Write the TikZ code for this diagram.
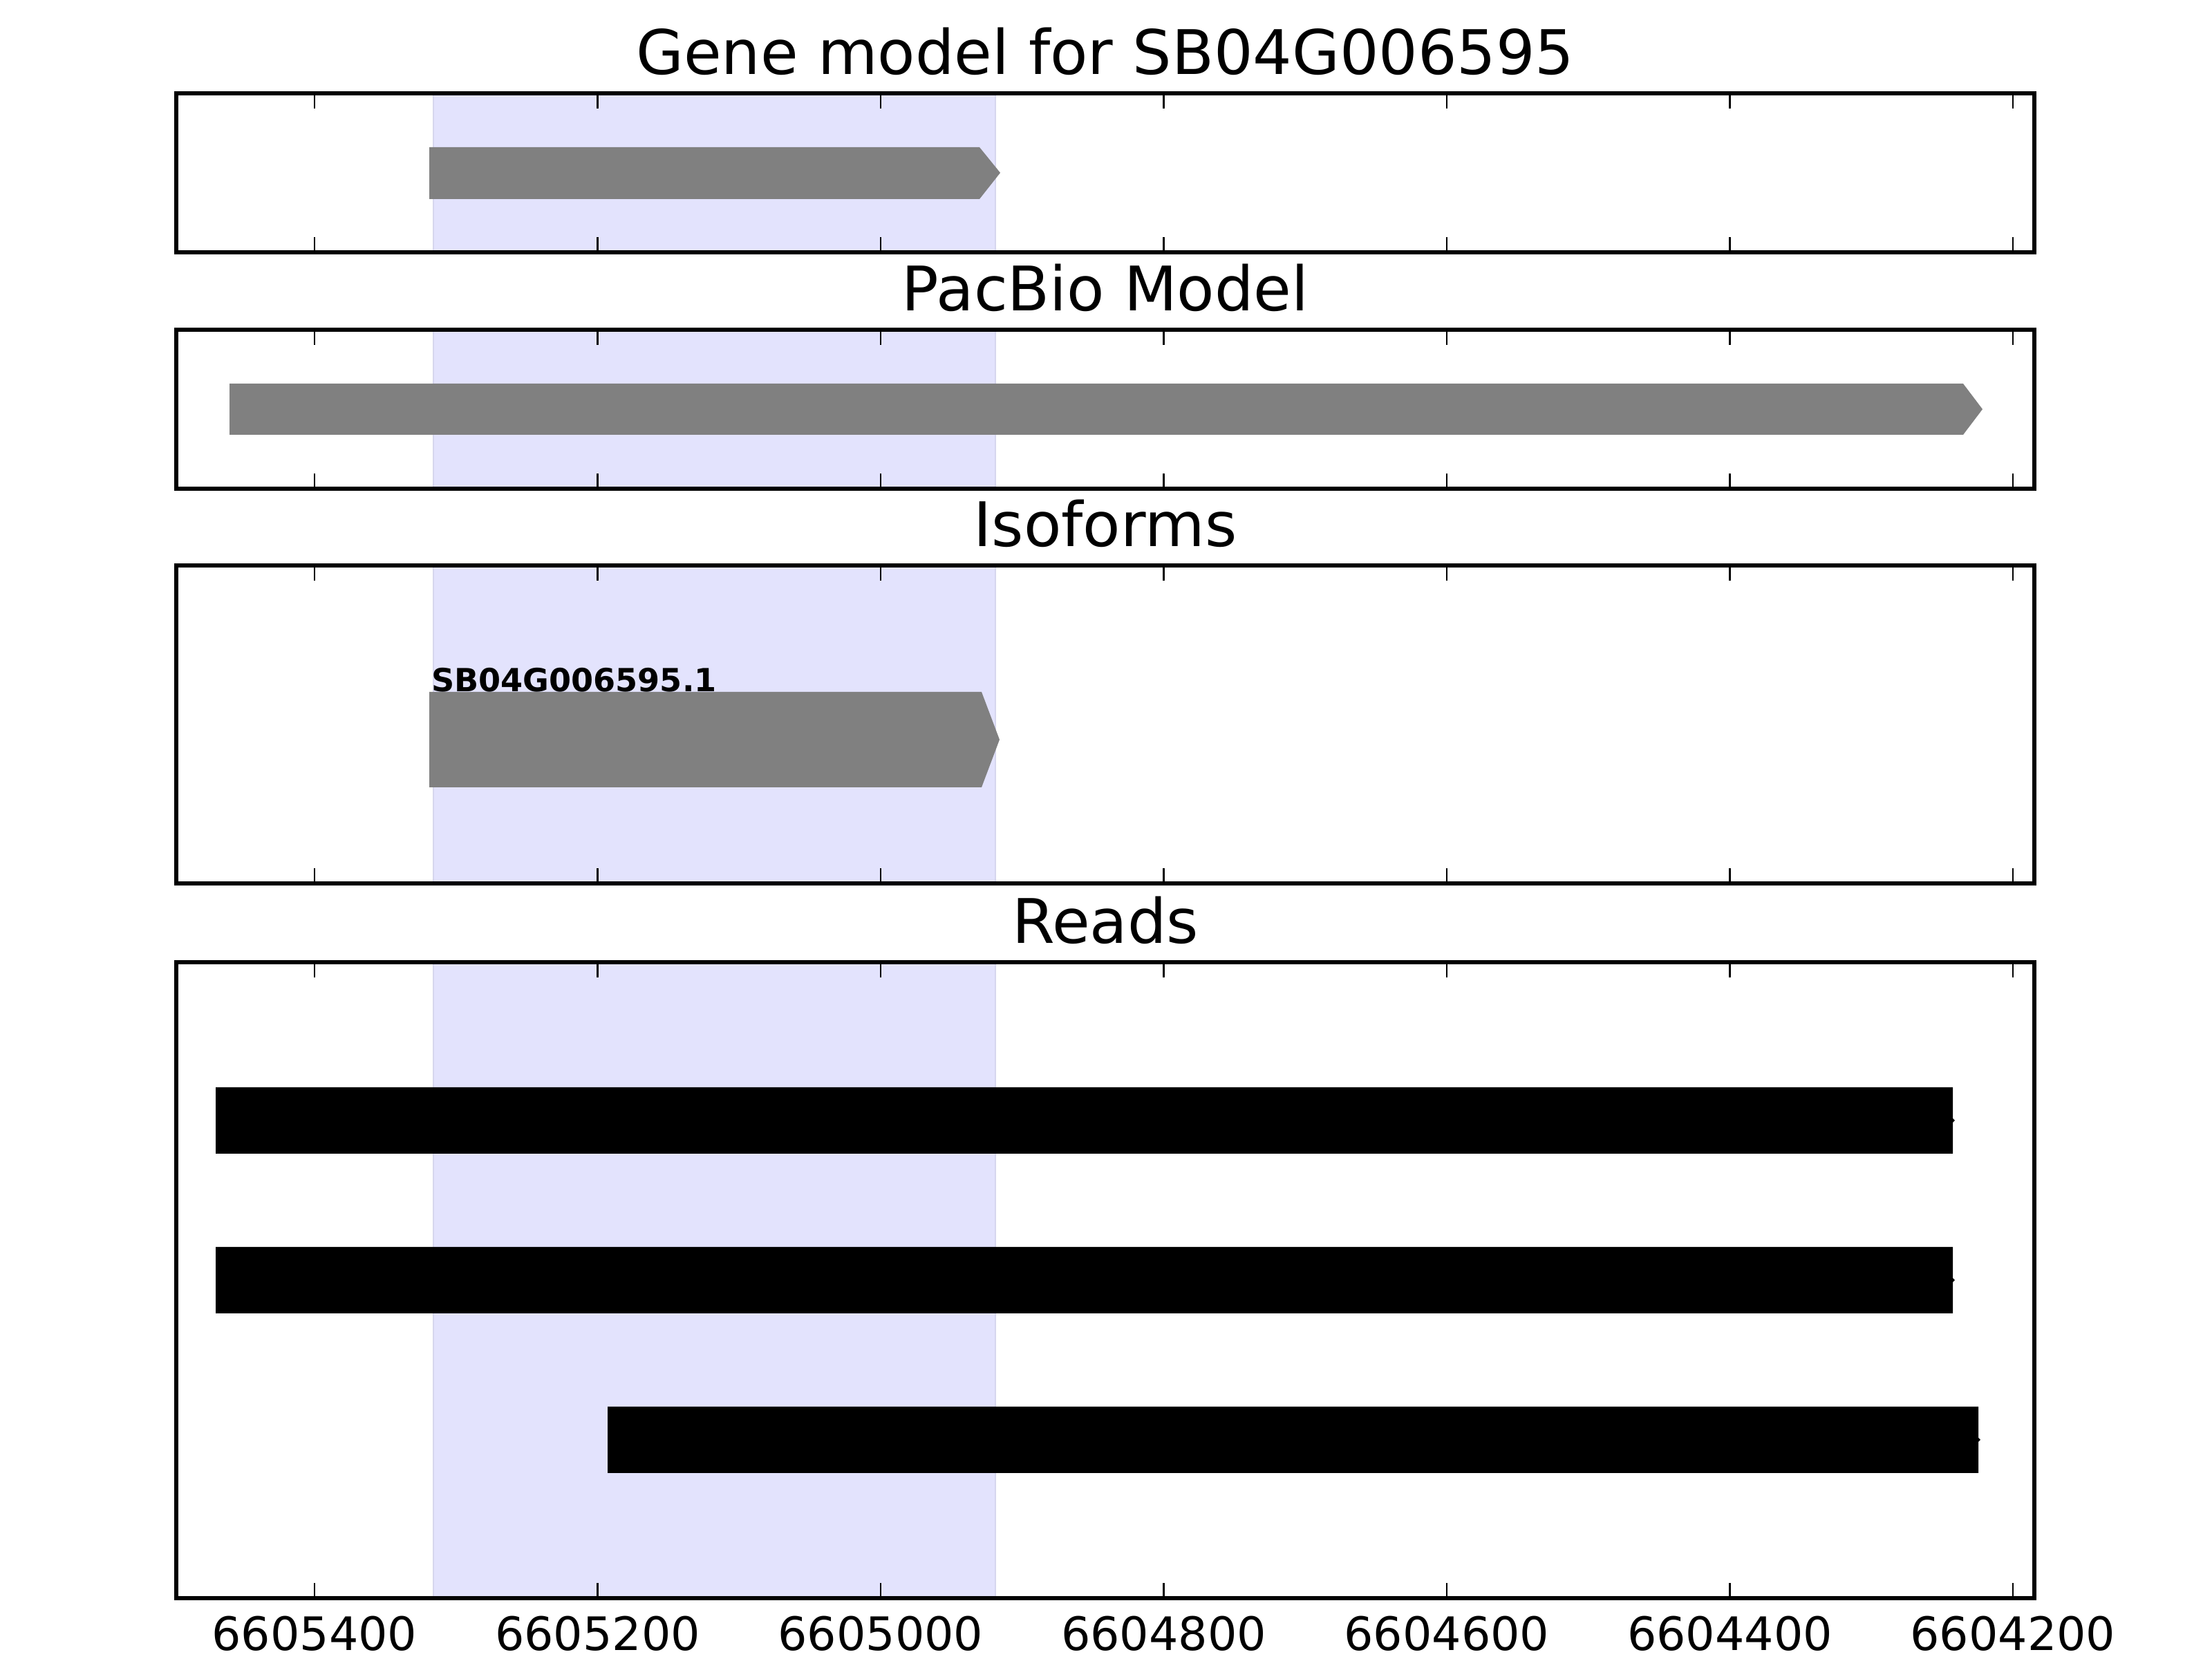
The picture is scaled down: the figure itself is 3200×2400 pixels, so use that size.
\documentclass[tikz,border=0pt]{standalone}
\usepackage{fontspec}
\setmainfont{DejaVu Sans}
\usetikzlibrary{positioning}
\definecolor{spanfill}{RGB}{227,227,253}
\definecolor{spanedge}{RGB}{214,214,238}
\definecolor{genegray}{RGB}{128,128,128}
\tikzset{
  frame/.style={draw=black,line width=1bp},
  tickmark/.style={draw=black,line width=0.5bp},
  spanbox/.style={fill=spanfill,draw=spanedge,line width=0.4bp},
  genebox/.style={fill=genegray},
  readbar/.style={fill=black},
  ptitle/.style={anchor=base,inner sep=0pt,font=\fontsize{16bp}{19bp}\selectfont},
  ticklabel/.style={anchor=base,inner sep=0pt,font=\fontsize{12bp}{14bp}\selectfont},
  isolabel/.style={anchor=base west,inner sep=0pt,font=\fontsize{8.3bp}{10bp}\selectfont\bfseries},
}
\begin{document}
\begin{tikzpicture}[x=0.18bp,y=-0.18bp]
  \useasboundingbox (0,0) rectangle (3200,2400);
  \fill[white] (0,0) rectangle (3200,2400);
  % panels: highlighted span, frame, ticks and title
  \foreach \ya/\yb/\nm/\ttl in {135/365/tgene/Gene model for SB04G006595,
      477/707/tpac/PacBio Model, 818/1278/tiso/Isoforms, 1392/2312/treads/Reads}{
    \filldraw[spanbox] (627,\ya) rectangle (1440,\yb);
    \draw[frame] (255,\ya) rectangle (2943,\yb);
    \foreach \k in {0,...,6}
      \draw[tickmark] (455+409.5*\k,\ya) -- ++(0,22) (455+409.5*\k,\yb) -- ++(0,-22);
    \node[ptitle] (\nm) at (1599,\ya-27) {\ttl};
  }
  % gene model
  \fill[genebox] (621,213) -- (1417,213) -- (1447,250) -- (1417,288) -- (621,288) -- cycle;
  % pacbio model
  \fill[genebox] (332,555) -- (2840,555) -- (2868,592) -- (2840,629) -- (332,629) -- cycle;
  % isoforms
  \fill[genebox] (621,1001) -- (1420,1001) -- (1446,1070) -- (1420,1139) -- (621,1139) -- cycle;
  \node[isolabel] (iso1) at (623,1001) {SB04G006595.1};
  % reads
  \foreach \xa/\xb/\yc in {312/2825/1621, 312/2825/1852, 879/2862/2083}
    \fill[readbar] (\xa,\yc-48) -- (\xb,\yc-48) -- (\xb,\yc-3) -- (\xb+3,\yc)
      -- (\xb,\yc+3) -- (\xb,\yc+48) -- (\xa,\yc+48) -- cycle;
  % axis labels
  \foreach \v [count=\k from 0] in {6605400,6605200,6605000,6604800,6604600,6604400,6604200}
    \node[ticklabel] (lab\k) at (455+409.5*\k,2388) {\v};
\end{tikzpicture}
\end{document}
